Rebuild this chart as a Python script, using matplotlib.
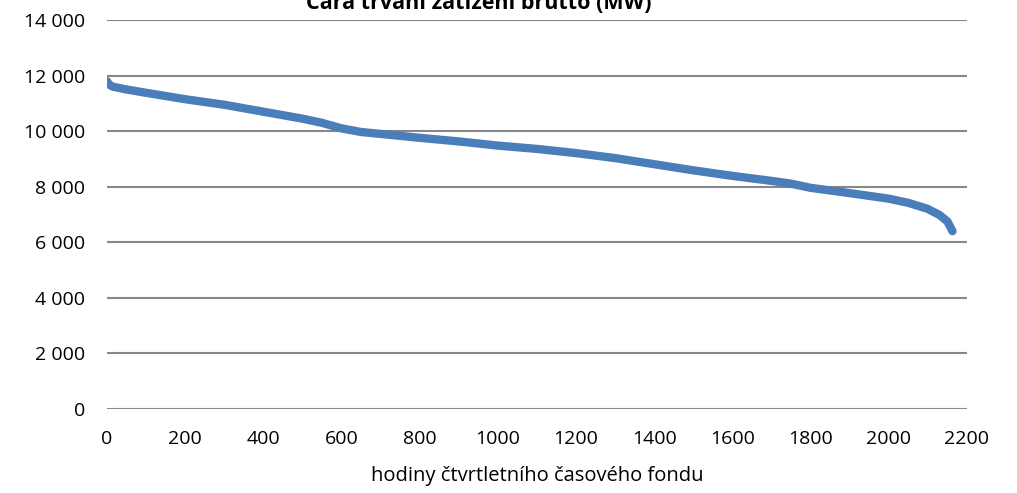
import matplotlib
matplotlib.use("Agg")
import matplotlib.pyplot as plt
from matplotlib.ticker import FuncFormatter

# load duration curve
hours = [0, 5, 15, 50, 100, 200, 300, 400, 500, 550, 600, 650, 700, 800, 900,
         1000, 1100, 1200, 1300, 1400, 1500, 1600, 1700, 1750, 1800, 1900,
         2000, 2050, 2100, 2130, 2150, 2163]
load_mw = [11800, 11680, 11600, 11500, 11380, 11150, 10950, 10700, 10450, 10300,
           10100, 9970, 9900, 9760, 9630, 9480, 9360, 9210, 9030, 8810, 8590,
           8390, 8210, 8110, 7960, 7770, 7570, 7420, 7200, 6980, 6750, 6400]

title = "Čára trvání zatížení brutto (MW)"
xlabel = "hodiny čtvrtletního časového fondu"
xticks = list(range(0, 2201, 200))
yticks = list(range(0, 14001, 2000))

plt.rcParams['font.family'] = ['Open Sans', 'DejaVu Sans']

fig = plt.figure(figsize=(10.17, 4.93), dpi=100)
ax = fig.add_axes([0.1052, 0.1704, 0.8456, 0.789])

ax.plot(hours, load_mw, color="#4A7EBB", linewidth=6, solid_capstyle="round",
        solid_joinstyle="round", zorder=3)

ax.set_xlim(0, 2200)
ax.set_ylim(0, 14000)
ax.set_xticks(xticks)
ax.set_yticks(yticks)
ax.yaxis.set_major_formatter(FuncFormatter(lambda v, p: f"{int(v):,}".replace(",", " ")))
ax.grid(axis="y", color="#888888", linewidth=1.5)
ax.set_axisbelow(True)
for s in ax.spines.values():
    s.set_visible(False)
ax.tick_params(length=0, labelsize=14, colors="black")
ax.tick_params(axis="y", pad=16)
ax.tick_params(axis="x", pad=15)
ax.set_xlabel(xlabel, fontsize=14.5, labelpad=13)

fig.text(0.471, 0.982, title, ha="center", va="baseline", fontsize=15.5, fontweight="bold")

fig.savefig("out.png", dpi=100)
